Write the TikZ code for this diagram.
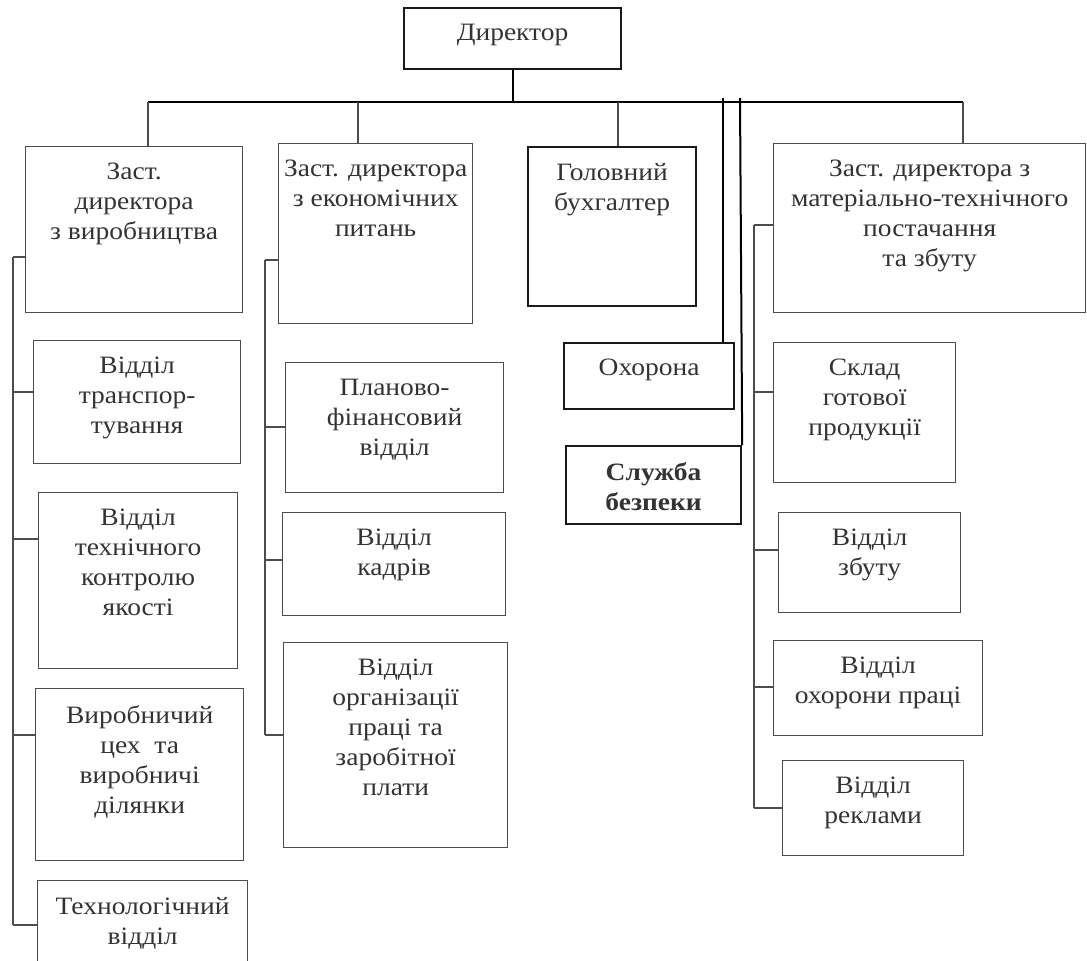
\documentclass[tikz,border=0pt]{standalone}
\usepackage{fontspec}
\setmainfont{Liberation Serif}[FakeStretch=1.1]
\tikzset{
x=1pt, y=-1pt, % one unit per pixel, y runs downwards
unit/.style={draw=black!70, line width=1.3pt, anchor=north west, inner sep=0pt}, % frame of a department
chief/.style={unit, draw=black!90, line width=2.2pt}, % heavier frame
caption/.style={anchor=north, align=center, inner sep=0pt, yshift=-17pt, text=black!80, font=\fontsize{25}{30}\selectfont}, % text hung from the top edge
link/.style={draw=black!70, line width=1.3pt}, % thin connectors
mainlink/.style={draw=black, line width=2pt}, % the top bus
}

\begin{document}
\begin{tikzpicture}
    \useasboundingbox (0,0) rectangle (1087,961);
    % top
    \node[chief, minimum width=217, minimum height=61, label={[caption]north:Директор}] (dir) at (403,7) {};
    % production
    \node[unit, minimum width=217, minimum height=166, label={[caption]north:Заст.\\директора\\з виробництва}] (zam1) at (25,146) {};
    \node[unit, minimum width=207, minimum height=123, label={[caption]north:Відділ\\транспор-\\тування}] (trans) at (33,340) {};
    \node[unit, minimum width=199, minimum height=176, label={[caption]north:Відділ\\технічного\\контролю\\якості}] (tkk) at (38,492) {};
    \node[unit, minimum width=208, minimum height=172, label={[caption]north:Виробничий\\цех \ та\\виробничі\\ділянки}] (cex) at (35,688) {};
    \node[unit, minimum width=210, minimum height=95, label={[caption]north:Технологічний\\відділ}] (tech) at (37,880) {};
    % economics
    \node[unit, minimum width=194, minimum height=180, label={[caption]north:Заст. директора\\з економічних\\питань}] (zam2) at (278,143) {};
    \node[unit, minimum width=218, minimum height=130, label={[caption]north:Планово-\\фінансовий\\відділ}] (plan) at (285,362) {};
    \node[unit, minimum width=223, minimum height=103, label={[caption]north:Відділ\\кадрів}] (kadr) at (282,512) {};
    \node[unit, minimum width=224, minimum height=205, label={[caption]north:Відділ\\організації\\праці та\\заробітної\\плати}] (org) at (283,642) {};
    % direct reports
    \node[chief, minimum width=168, minimum height=159, label={[caption]north:Головний\\бухгалтер}] (buh) at (527,146) {};
    \node[chief, minimum width=170, minimum height=66, label={[caption]north:Охорона}] (ohor) at (563,342) {};
    \node[chief, minimum width=175, minimum height=78, label={[caption, font=\fontsize{25}{30}\selectfont\bfseries]north:Служба\\безпеки}] (sb) at (565,445) {};
    % supply and sales
    \node[unit, minimum width=312, minimum height=169, label={[caption]north:Заст. директора з\\матеріально-технічного\\постачання\\та збуту}] (zam4) at (773,143) {};
    \node[unit, minimum width=182, minimum height=140, label={[caption]north:Склад\\готової\\продукції}] (sklad) at (773,342) {};
    \node[unit, minimum width=182, minimum height=100, label={[caption]north:Відділ\\збуту}] (zbut) at (778,512) {};
    \node[unit, minimum width=209, minimum height=95, label={[caption]north:Відділ\\охорони праці}] (ohp) at (773,640) {};
    \node[unit, minimum width=181, minimum height=95, label={[caption]north:Відділ\\реклами}] (rekl) at (782,760) {};

    % main bus
    \coordinate (hl) at (148,102);
    \coordinate (hr) at (963,102);
    \coordinate (d2) at (358,102);
    \coordinate (d3) at (618,102);
    \coordinate (g1) at (723,98);
    \coordinate (g2) at (740,98);
    \draw[mainlink] (dir.south) -- (dir.south |- hl);
    \draw[mainlink] (hl) -- (hr);
    \draw[link] (hl) -- (hl |- zam1.north);
    \draw[link] (d2) -- (d2 |- zam2.north);
    \draw[link] (d3) -- (d3 |- buh.north);
    \draw[link] (hr) -- (hr |- zam4.north);
    \draw[mainlink] (g1) -- (g1 |- ohor.north);
    \draw[mainlink] (g2) -- (sb.north east);

    % column buses
    \draw[link] (13,257) -- (13,925);
    \foreach \n/\y in {zam1/257, trans/392, tkk/539, cex/735, tech/925}
        \draw[link] (13,\y) -- (\n.west |- 13,\y);
    \draw[link] (265,260) -- (265,735);
    \foreach \n/\y in {zam2/260, plan/427, kadr/560, org/735}
        \draw[link] (265,\y) -- (\n.west |- 265,\y);
    \draw[link] (754,225) -- (754,808);
    \foreach \n/\y in {zam4/225, sklad/392, zbut/550, ohp/687, rekl/808}
        \draw[link] (754,\y) -- (\n.west |- 754,\y);
\end{tikzpicture}
\end{document}
